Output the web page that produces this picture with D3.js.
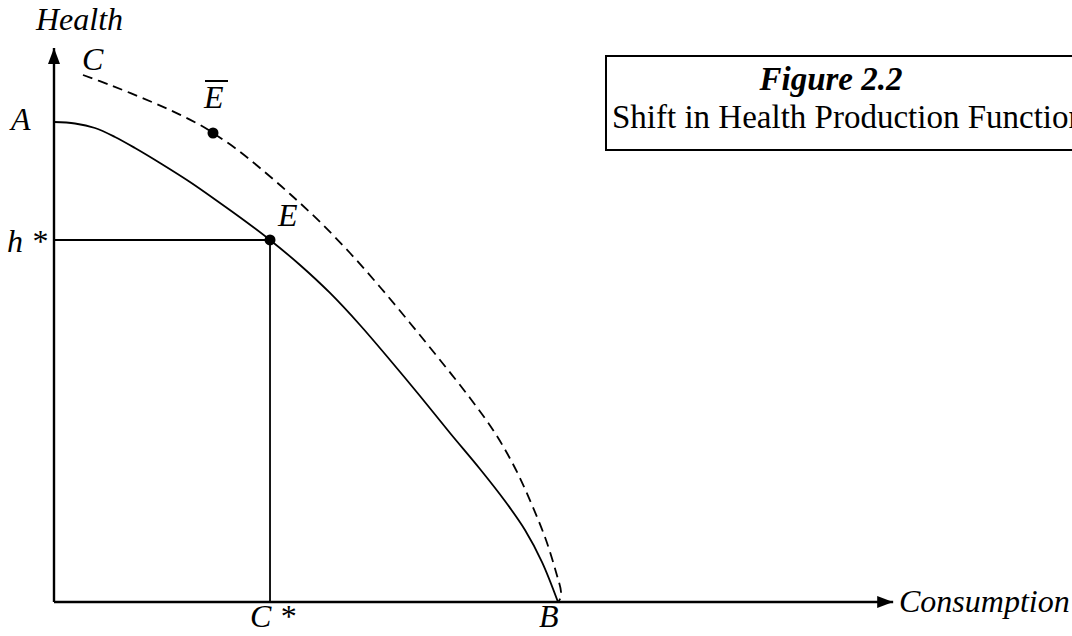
<!DOCTYPE html>
<html>
<head>
<meta charset="utf-8">
<script src="https://cdn.jsdelivr.net/npm/d3@7/dist/d3.min.js"></script>
<style>
  html, body { margin: 0; padding: 0; background: #fff; }
  svg { display: block; }
  text { font-family: "Liberation Serif", "Times New Roman", serif; fill: #000; }
</style>
</head>
<body>
<svg id="chart" width="1072" height="636"></svg>
<script>
// ---- data (consumption, health), in units where B = 100 and A = 100 ----
const originalCurve = [
  [0, 100], [4.17, 99.69], [8.13, 98.75], [12.10, 96.88], [16.07, 94.58],
  [21.03, 91.46], [26.98, 87.5], [32.94, 83.13], [37.90, 79.38], [42.86, 75.42],
  [48.81, 70.21], [54.76, 64.38], [60.71, 57.71], [66.67, 50.42], [72.62, 42.92],
  [78.57, 35.21], [84.52, 27.71], [89.48, 21.04], [93.45, 15.0], [96.83, 8.33],
  [100, 0]
];
const shiftedCurve = [
  [5.75, 109.79], [11.11, 107.71], [17.06, 105.21], [23.02, 102.5], [28.97, 99.38],
  [31.55, 97.71], [35.91, 94.58], [40.87, 90.42], [46.83, 85.0], [52.78, 79.17],
  [58.73, 72.71], [64.68, 65.63], [70.63, 58.13], [76.59, 50.42], [82.54, 42.5],
  [87.5, 35.21], [91.47, 27.92], [94.84, 20.21], [97.62, 12.92], [99.6, 6.25],
  [100.6, 2.08], [100.4, 0.63], [100, 0]
];
const pointE = [42.86, 75.42];
const pointEbar = [31.55, 97.71];
const axisExtent = [166.5, 115.4];   // how far the arrows run (x, y)
const pointLabels = ["A", "B", "C", "E", "h *", "C *"];
const axisTitles = ["Health", "Consumption"];
const boxTitle = "Figure 2.2";
const boxSubtitle = "Shift in Health Production Function";

// ---- scales ----
const x = d3.scaleLinear().domain([0, 100]).range([54, 558]);
const y = d3.scaleLinear().domain([0, 100]).range([602, 122]);

const svg = d3.select("#chart");

// arrow marker
svg.append("defs").append("marker")
  .attr("id", "arrow").attr("viewBox", "0 0 16 12")
  .attr("refX", 16).attr("refY", 6)
  .attr("markerWidth", 16).attr("markerHeight", 12)
  .attr("markerUnits", "userSpaceOnUse").attr("orient", "auto")
  .append("path").attr("d", "M0,0 L16,6 L0,12 Z").attr("fill", "#000");

// axes
svg.append("line")
  .attr("x1", x(0)).attr("y1", y(0)).attr("x2", x(0)).attr("y2", y(axisExtent[1]))
  .attr("stroke", "#000").attr("stroke-width", 2.4).attr("marker-end", "url(#arrow)");
svg.append("line")
  .attr("x1", x(0)).attr("y1", y(0)).attr("x2", x(axisExtent[0])).attr("y2", y(0))
  .attr("stroke", "#000").attr("stroke-width", 2.4).attr("marker-end", "url(#arrow)");

// h* and C* guide lines
svg.append("line")
  .attr("x1", x(0)).attr("y1", y(pointE[1])).attr("x2", x(pointE[0])).attr("y2", y(pointE[1]))
  .attr("stroke", "#000").attr("stroke-width", 1.8);
svg.append("line")
  .attr("x1", x(pointE[0])).attr("y1", y(pointE[1])).attr("x2", x(pointE[0])).attr("y2", y(0))
  .attr("stroke", "#000").attr("stroke-width", 1.8);

const line = d3.line().x(d => x(d[0])).y(d => y(d[1])).curve(d3.curveCatmullRom.alpha(0.5));

svg.append("path").datum(originalCurve)
  .attr("d", line).attr("fill", "none").attr("stroke", "#000").attr("stroke-width", 1.8);
svg.append("path").datum(shiftedCurve)
  .attr("d", line).attr("fill", "none").attr("stroke", "#000").attr("stroke-width", 1.8)
  .attr("stroke-dasharray", "10,6");

// points
[pointE, pointEbar].forEach(p => {
  svg.append("circle").attr("cx", x(p[0])).attr("cy", y(p[1])).attr("r", 5.5).attr("fill", "#000");
});

// labels
const lab = (t, px, py, opts = {}) => svg.append("text")
  .attr("x", px).attr("y", py)
  .attr("font-size", opts.size || 32)
  .attr("font-style", opts.italic === false ? "normal" : "italic")
  .attr("font-weight", opts.bold ? "bold" : "normal")
  .attr("text-anchor", opts.anchor || "start")
  .text(t);

lab(axisTitles[0], 36, 30);
lab(axisTitles[1], 899, 612);
lab(pointLabels[0], 11, 130);                          // A
lab(pointLabels[1], x(100) - 19, 627);                 // B
lab(pointLabels[2], 82, 70);                           // C
lab(pointLabels[3], x(pointE[0]) + 8, 226);            // E
lab(pointLabels[4], 7, 252);                           // h*
lab(pointLabels[5], x(pointE[0]) - 20, 627);           // C*
// E bar
lab("E", x(pointEbar[0]) - 9, 108);
svg.append("line").attr("x1", x(pointEbar[0]) - 8).attr("x2", x(pointEbar[0]) + 15)
  .attr("y1", 81).attr("y2", 81).attr("stroke", "#000").attr("stroke-width", 2);

// title box
svg.append("rect").attr("x", 606).attr("y", 56).attr("width", 500).attr("height", 94)
  .attr("fill", "none").attr("stroke", "#000").attr("stroke-width", 2);
lab(boxTitle, 831, 90, { bold: true, anchor: "middle", size: 33 });
lab(boxSubtitle, 612, 128, { italic: false, size: 33 });
</script>
</body>
</html>
